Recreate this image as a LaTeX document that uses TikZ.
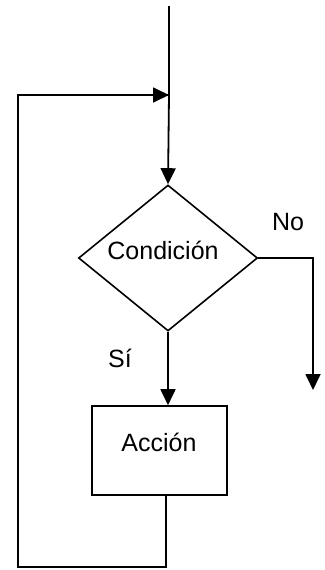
\documentclass[tikz,border=0pt]{standalone}
\usepackage{fontspec}
\setmainfont{Liberation Sans}
\usetikzlibrary{shapes.geometric,arrows.meta}
\begin{document}
\begin{tikzpicture}[x=1pt,y=-1pt, line width=1.8pt,
  arr/.style={-{Triangle[length=16pt,width=15pt]}},
  lbl/.style={font=\fontsize{25}{28}\selectfont, inner sep=0pt},
  shapebox/.style={draw, inner sep=0pt, line width=1.6pt}]
\useasboundingbox (0,0) rectangle (324,570);
\coordinate (start) at (169,6);
\coordinate (merge) at (169,95);
\node[shapebox, diamond, minimum width=179pt, minimum height=146pt] (cond) at (168,258) {};
\node[lbl] (condt) at (163,250) {Condición};
\node[shapebox, rectangle, minimum width=135pt, minimum height=89pt] (accion) at (159.5,450.5) {};
\node[lbl] (acciont) at (159,442) {Acción};
\node[lbl] (no) at (288,222) {No};
\node[lbl] (si) at (120,358) {Sí};
\coordinate (noend) at (313,390);
\coordinate (loopA) at (166,567);
\coordinate (loopB) at (18,567);
\draw (start) -- (merge);
\draw[arr] (merge) -- (cond.north);
\draw[arr] (cond.east) -| (noend);
\draw[arr] (cond.south) -- (cond.south |- accion.north);
\draw (accion.south -| loopA) -- (loopA) -- (loopB) |- (merge);
\draw[arr] (loopB |- merge) -- (merge);
\end{tikzpicture}
\end{document}
